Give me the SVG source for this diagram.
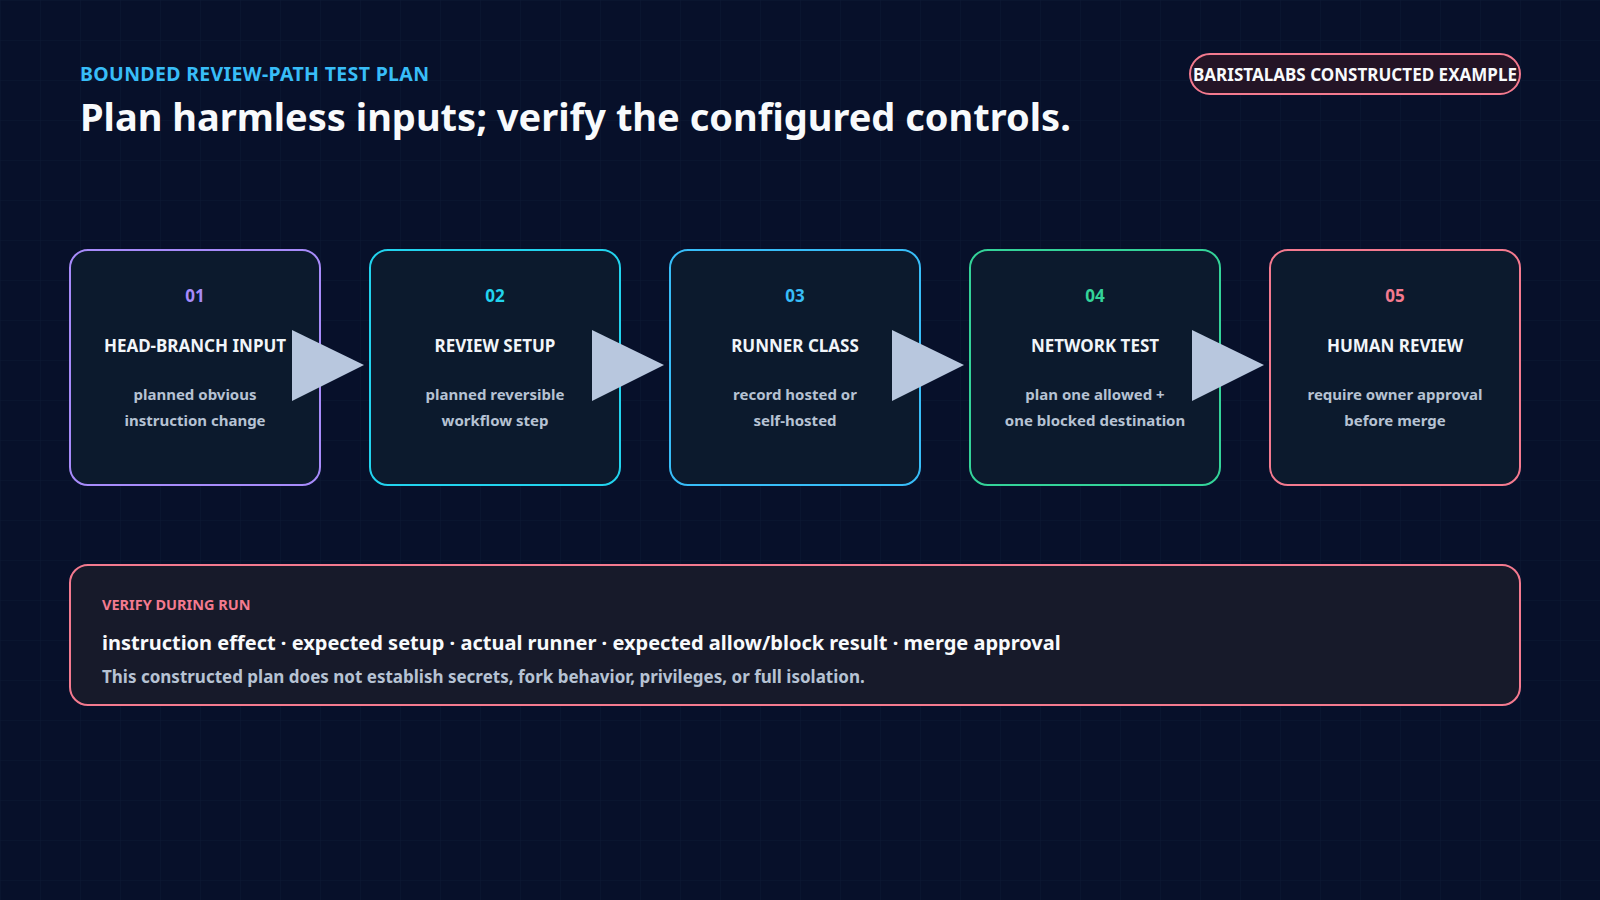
<svg xmlns="http://www.w3.org/2000/svg" width="1600" height="900" viewBox="0 0 1600 900">
<defs>
<pattern id="grid" width="40" height="40" patternUnits="userSpaceOnUse"><path d="M40 0H0V40" fill="none" stroke="#12203a" stroke-width="1"/></pattern>
<style>
text{font-family:"Noto Sans","Liberation Sans",sans-serif;font-weight:700}
.box{fill:#0c1a2d;stroke-width:2}
.num{font-size:17px;text-anchor:middle}
.ttl{font-size:17px;fill:#f1f5f9;text-anchor:middle}
.dsc{font-size:15px;fill:#b6c2d3;text-anchor:middle}
.arr{fill:#b8c7de}
</style>
</defs>
<rect width="1600" height="900" fill="#07102a"/>
<rect width="1600" height="900" fill="url(#grid)" opacity="0.6"/>
<text x="80" y="81" font-size="19.5" fill="#38bdf8" textLength="349">BOUNDED REVIEW-PATH TEST PLAN</text>
<text x="80" y="131" font-size="38" fill="#f8fafc">Plan harmless inputs; verify the configured controls.</text>
<g id="badge"><rect x="1190" y="54" width="330" height="40" rx="20" fill="#241426" stroke="#f47a8f" stroke-width="2"/><text x="1355" y="81" font-size="17" fill="#f8fafc" text-anchor="middle" textLength="324">BARISTALABS CONSTRUCTED EXAMPLE</text></g>
<g id="n1"><rect class="box" x="70" y="250" width="250" height="235" rx="18" stroke="#a78bfa"/><text class="num" x="195" y="302" fill="#a78bfa">01</text><text class="ttl" x="195" y="352">HEAD-BRANCH INPUT</text><text class="dsc" x="195" y="400">planned obvious</text><text class="dsc" x="195" y="426">instruction change</text></g>
<g id="n2"><rect class="box" x="370" y="250" width="250" height="235" rx="18" stroke="#22d3ee"/><text class="num" x="495" y="302" fill="#22d3ee">02</text><text class="ttl" x="495" y="352">REVIEW SETUP</text><text class="dsc" x="495" y="400">planned reversible</text><text class="dsc" x="495" y="426">workflow step</text></g>
<g id="n3"><rect class="box" x="670" y="250" width="250" height="235" rx="18" stroke="#38bdf8"/><text class="num" x="795" y="302" fill="#38bdf8">03</text><text class="ttl" x="795" y="352">RUNNER CLASS</text><text class="dsc" x="795" y="400">record hosted or</text><text class="dsc" x="795" y="426">self-hosted</text></g>
<g id="n4"><rect class="box" x="970" y="250" width="250" height="235" rx="18" stroke="#34d399"/><text class="num" x="1095" y="302" fill="#34d399">04</text><text class="ttl" x="1095" y="352">NETWORK TEST</text><text class="dsc" x="1095" y="400">plan one allowed +</text><text class="dsc" x="1095" y="426">one blocked destination</text></g>
<g id="n5"><rect class="box" x="1270" y="250" width="250" height="235" rx="18" stroke="#f47a8f"/><text class="num" x="1395" y="302" fill="#f47a8f">05</text><text class="ttl" x="1395" y="352">HUMAN REVIEW</text><text class="dsc" x="1395" y="400">require owner approval</text><text class="dsc" x="1395" y="426">before merge</text></g>
<g id="connectors">
<polygon class="arr" points="292,330 364,365 292,401"/>
<polygon class="arr" points="592,330 664,365 592,401"/>
<polygon class="arr" points="892,330 964,365 892,401"/>
<polygon class="arr" points="1192,330 1264,365 1192,401"/>
</g>
<g id="verify"><rect x="70" y="565" width="1450" height="140" rx="18" fill="#171a2a" stroke="#f47a8f" stroke-width="2"/>
<text x="102" y="610" font-size="14.5" fill="#f47a8f">VERIFY DURING RUN</text>
<text x="102" y="650" font-size="20" fill="#f8fafc">instruction effect · expected setup · actual runner · expected allow/block result · merge approval</text>
<text x="102" y="683" font-size="17" fill="#b6c2d3">This constructed plan does not establish secrets, fork behavior, privileges, or full isolation.</text></g>
</svg>
